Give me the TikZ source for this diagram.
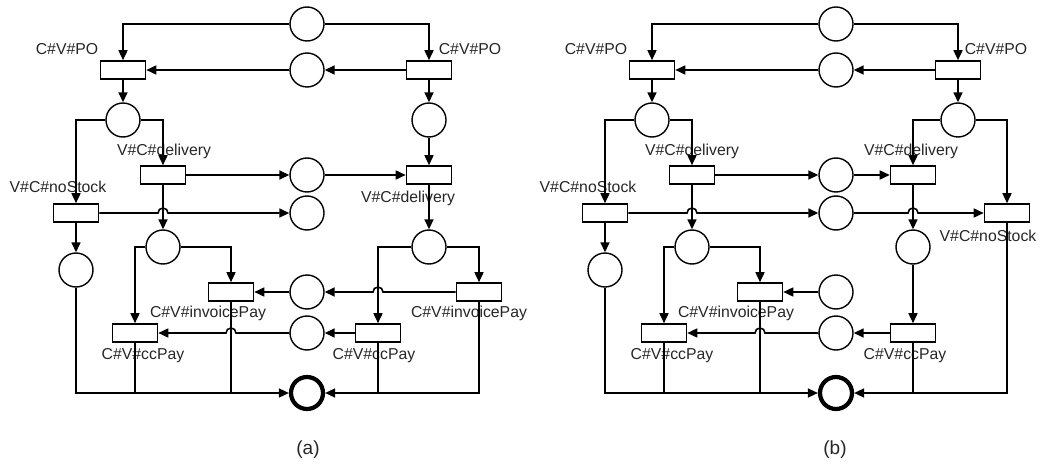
\documentclass[tikz,border=0pt]{standalone}
\usepackage{fontspec}
\setmainfont{Liberation Sans}
\usetikzlibrary{arrows.meta}

\tikzset{
  place/.style={circle, draw, line width=1.4pt, minimum size=34pt, inner sep=0pt},
  final/.style={place, line width=4.2pt, minimum size=32pt},
  trans/.style={rectangle, draw, line width=1.6pt, minimum width=45pt, minimum height=18pt, inner sep=0pt},
  lbl/.style={inner sep=0pt, text=black!85, font=\fontsize{15.8}{18}\selectfont},
  netcaption/.style={inner sep=0pt, text=black!85, font=\fontsize{19}{22}\selectfont},
  arc/.style={line width=1.6pt, -{Triangle[length=10pt,width=9pt]}},
  link/.style={line width=1.6pt},
}
% half-circle hop of a horizontal arc over a vertical one
\newcommand{\hopL}{arc[start angle=0,end angle=180,radius=5pt]}
\newcommand{\hopR}{arc[start angle=180,end angle=0,radius=5pt]}

\begin{document}
\begin{tikzpicture}[x=1pt,y=-1pt]
\useasboundingbox (0,0) rectangle (1040,465);

% ---------------- net (a) ----------------
\node[place] (p1a) at (307,24) {};
\node[trans] (tpoLa) at (123,70) {};
\node[trans] (tpoRa) at (429,70) {};
\node[place] (p2a) at (307,70) {};
\node[place] (p3a) at (123,120) {};
\node[place] (p4a) at (429,120) {};
\node[trans] (nsLa) at (76,213) {};
\node[trans] (dlLa) at (163,175) {};
\node[trans] (dlRa) at (429,175) {};
\node[place] (p5a) at (307,175) {};
\node[place] (p6a) at (307,213) {};
\node[place] (p7a) at (163,247) {};
\node[place] (p8a) at (76,270) {};
\node[trans] (ccLa) at (135,333) {};
\node[trans] (ivLa) at (231,292) {};
\node[place] (p9a) at (429,247) {};
\node[trans] (ccRa) at (378,333) {};
\node[trans] (ivRa) at (479,292) {};
\node[place] (p10a) at (307,292) {};
\node[place] (p11a) at (307,333) {};
\node[final] (fina) at (307,393) {};

\node[lbl] (lpoLa) at (67,49) {C\#V\#PO};
\node[lbl] (lpoRa) at (470,49) {C\#V\#PO};
\node[lbl] (ldlLa) at (164,151) {V\#C\#delivery};
\node[lbl] (lnsLa) at (58,187) {V\#C\#noStock};
\node[lbl] (ldlRa) at (408,198) {V\#C\#delivery};
\node[lbl] (livLa) at (208,313) {C\#V\#invoicePay};
\node[lbl] (lccLa) at (143,356) {C\#V\#ccPay};
\node[lbl] (livRa) at (469,313) {C\#V\#invoicePay};
\node[lbl] (lccRa) at (374,356) {C\#V\#ccPay};
\node[netcaption] (capa) at (308,450) {(a)};

\draw[arc] (p1a.west) -| (tpoLa.north);
\draw[arc] (p1a.east) -| (tpoRa.north);
\draw[arc] (tpoRa.west) -- (p2a.east);
\draw[arc] (p2a.west) -- (tpoLa.east);
\draw[arc] (tpoLa.south) -- (p3a.north);
\draw[arc] (tpoRa.south) -- (p4a.north);
\draw[arc] (p3a.west) -| (nsLa.north);
\draw[arc] (p3a.east) -| (dlLa.north);
\draw[arc] (p4a.south) -- (dlRa.north);
\draw[arc] (dlLa.east) -- (p5a.west);
\draw[arc] (p5a.east) -- (dlRa.west);
\draw[arc] (nsLa.east) -- ([xshift=-5pt]nsLa.east -| dlLa.south) \hopR -- (p6a.west);
\draw[arc] (dlLa.south) -- (p7a.north);
\draw[arc] (nsLa.south) -- (p8a.north);
\draw[arc] (p7a.west) -| (ccLa.north);
\draw[arc] (p7a.east) -| (ivLa.north);
\draw[arc] (dlRa.south) -- (p9a.north);
\draw[arc] (p9a.west) -| (ccRa.north);
\draw[arc] (p9a.east) -| (ivRa.north);
\draw[arc] (ivRa.west) -- ([xshift=5pt]ivRa.west -| ccRa.north) \hopL -- (p10a.east);
\draw[arc] (p10a.west) -- (ivLa.east);
\draw[arc] (ccRa.west) -- (p11a.east);
\draw[arc] (p11a.west) -- ([xshift=5pt]p11a.west -| ivLa.south) \hopL -- (ccLa.east);
\draw[arc] (p8a.south) |- (fina.west);
\draw[link] (ccLa.south) -- (ccLa.south |- fina.center);
\draw[link] (ivLa.south) -- (ivLa.south |- fina.center);
\draw[arc] (ivRa.south) |- (fina.east);
\draw[link] (ccRa.south) -- (ccRa.south |- fina.center);

% ---------------- net (b) ----------------
\node[place] (p1b) at (836,24) {};
\node[trans] (tpoLb) at (652,70) {};
\node[trans] (tpoRb) at (958,70) {};
\node[place] (p2b) at (836,70) {};
\node[place] (p3b) at (652,120) {};
\node[place] (p4b) at (958,120) {};
\node[trans] (nsLb) at (605,213) {};
\node[trans] (dlLb) at (692,175) {};
\node[trans] (dlRb) at (913,175) {};
\node[trans] (nsRb) at (1007,213) {};
\node[place] (p5b) at (836,175) {};
\node[place] (p6b) at (836,213) {};
\node[place] (p7b) at (692,247) {};
\node[place] (p8b) at (605,270) {};
\node[trans] (ccLb) at (664,333) {};
\node[trans] (ivLb) at (760,292) {};
\node[place] (p9b) at (913,247) {};
\node[trans] (ccRb) at (913,333) {};
\node[place] (p10b) at (836,292) {};
\node[place] (p11b) at (836,333) {};
\node[final] (finb) at (836,393) {};

\node[lbl] (lpoLb) at (596,49) {C\#V\#PO};
\node[lbl] (lpoRb) at (996,49) {C\#V\#PO};
\node[lbl] (ldlLb) at (692,151) {V\#C\#delivery};
\node[lbl] (lnsLb) at (588,187) {V\#C\#noStock};
\node[lbl] (ldlRb) at (911,151) {V\#C\#delivery};
\node[lbl] (lnsRb) at (988,236) {V\#C\#noStock};
\node[lbl] (livLb) at (736,313) {C\#V\#invoicePay};
\node[lbl] (lccLb) at (672,356) {C\#V\#ccPay};
\node[lbl] (lccRb) at (905,356) {C\#V\#ccPay};
\node[netcaption] (capb) at (835,450) {(b)};

\draw[arc] (p1b.west) -| (tpoLb.north);
\draw[arc] (p1b.east) -| (tpoRb.north);
\draw[arc] (tpoRb.west) -- (p2b.east);
\draw[arc] (p2b.west) -- (tpoLb.east);
\draw[arc] (tpoLb.south) -- (p3b.north);
\draw[arc] (tpoRb.south) -- (p4b.north);
\draw[arc] (p3b.west) -| (nsLb.north);
\draw[arc] (p3b.east) -| (dlLb.north);
\draw[arc] (p4b.west) -| (dlRb.north);
\draw[arc] (p4b.east) -| (nsRb.north);
\draw[arc] (dlLb.east) -- (p5b.west);
\draw[arc] (p5b.east) -- (dlRb.west);
\draw[arc] (nsLb.east) -- ([xshift=-5pt]nsLb.east -| dlLb.south) \hopR -- (p6b.west);
\draw[arc] (p6b.east) -- ([xshift=-5pt]p6b.east -| dlRb.south) \hopR -- (nsRb.west);
\draw[arc] (dlLb.south) -- (p7b.north);
\draw[arc] (nsLb.south) -- (p8b.north);
\draw[arc] (p7b.west) -| (ccLb.north);
\draw[arc] (p7b.east) -| (ivLb.north);
\draw[arc] (dlRb.south) -- (p9b.north);
\draw[arc] (p9b.south) -- (ccRb.north);
\draw[arc] (p10b.west) -- (ivLb.east);
\draw[arc] (ccRb.west) -- (p11b.east);
\draw[arc] (p11b.west) -- ([xshift=5pt]p11b.west -| ivLb.south) \hopL -- (ccLb.east);
\draw[arc] (p8b.south) |- (finb.west);
\draw[link] (ccLb.south) -- (ccLb.south |- finb.center);
\draw[link] (ivLb.south) -- (ivLb.south |- finb.center);
\draw[arc] (nsRb.south) |- (finb.east);
\draw[link] (ccRb.south) -- (ccRb.south |- finb.center);
\end{tikzpicture}
\end{document}
